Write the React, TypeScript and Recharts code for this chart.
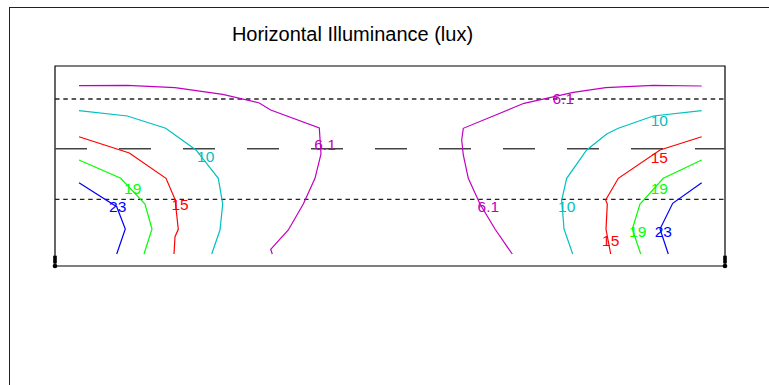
import React from "react";
import {
  ComposedChart,
  Line,
  Scatter,
  XAxis,
  YAxis,
  ReferenceLine,
  ReferenceArea,
  ReferenceDot,
} from "recharts";

type Pt = { x: number; y: number };

// contour polylines, x and y in metres across the area (road 67 x 20)
const magentaLeft: Pt[] = [
  { x: 2.4, y: 18.03 }, { x: 7.23, y: 18.07 }, { x: 12.0, y: 17.83 }, { x: 16.77, y: 17.17 },
  { x: 20.43, y: 16.3 }, { x: 21.57, y: 15.6 }, { x: 26.43, y: 13.8 }, { x: 26.6, y: 11.2 },
  { x: 26.0, y: 8.77 }, { x: 24.83, y: 6.2 }, { x: 23.33, y: 3.6 }, { x: 21.57, y: 1.67 },
  { x: 21.73, y: 1.2 },
];
const cyanLeft: Pt[] = [
  { x: 2.4, y: 15.53 }, { x: 7.23, y: 15.0 }, { x: 11.07, y: 13.77 }, { x: 14.1, y: 11.6 },
  { x: 16.33, y: 8.77 }, { x: 16.77, y: 6.2 }, { x: 16.5, y: 3.6 }, { x: 15.67, y: 1.2 },
];
const redLeft: Pt[] = [
  { x: 2.4, y: 12.93 }, { x: 7.43, y: 11.3 }, { x: 11.1, y: 8.77 }, { x: 12.0, y: 6.67 },
  { x: 12.33, y: 3.67 }, { x: 12.0, y: 2.93 }, { x: 11.9, y: 1.2 },
];
const greenLeft: Pt[] = [
  { x: 2.4, y: 10.6 }, { x: 6.57, y: 8.77 }, { x: 9.0, y: 6.2 }, { x: 9.7, y: 3.7 }, { x: 8.9, y: 1.2 },
];
const blueLeft: Pt[] = [
  { x: 2.4, y: 8.33 }, { x: 6.17, y: 5.93 }, { x: 7.03, y: 3.7 }, { x: 6.17, y: 1.2 },
];
const magentaRight: Pt[] = [
  { x: 64.67, y: 18.0 }, { x: 59.83, y: 18.07 }, { x: 55.07, y: 17.83 }, { x: 51.83, y: 17.37 },
  { x: 46.9, y: 16.27 }, { x: 40.83, y: 13.77 }, { x: 40.67, y: 12.6 }, { x: 40.83, y: 11.1 },
  { x: 41.33, y: 8.77 }, { x: 42.5, y: 6.2 }, { x: 44.0, y: 3.7 }, { x: 45.33, y: 1.77 },
  { x: 45.73, y: 1.2 },
];
const cyanRight: Pt[] = [
  { x: 64.67, y: 15.53 }, { x: 59.83, y: 15.0 }, { x: 56.33, y: 13.77 }, { x: 55.17, y: 13.2 },
  { x: 53.17, y: 11.6 }, { x: 51.17, y: 8.77 }, { x: 50.67, y: 6.6 }, { x: 50.9, y: 3.7 },
  { x: 51.77, y: 1.2 },
];
const redRight: Pt[] = [
  { x: 64.67, y: 12.93 }, { x: 60.5, y: 11.6 }, { x: 56.33, y: 8.77 }, { x: 55.07, y: 6.6 },
  { x: 55.23, y: 6.2 }, { x: 55.1, y: 3.67 }, { x: 55.57, y: 1.2 },
];
const greenRight: Pt[] = [
  { x: 64.67, y: 10.6 }, { x: 60.83, y: 8.77 }, { x: 58.5, y: 6.2 }, { x: 57.73, y: 3.7 }, { x: 58.57, y: 1.2 },
];
const blueRight: Pt[] = [
  { x: 64.67, y: 8.33 }, { x: 61.77, y: 6.27 }, { x: 60.5, y: 3.7 }, { x: 61.33, y: 1.2 },
];

const MAGENTA = "#c000c0";
const CYAN = "#00c0c0";
const RED = "#ff0000";
const GREEN = "#00ff00";
const BLUE = "#0000ff";

const contours = [
  { id: "m-l", data: magentaLeft, color: MAGENTA },
  { id: "c-l", data: cyanLeft, color: CYAN },
  { id: "r-l", data: redLeft, color: RED },
  { id: "g-l", data: greenLeft, color: GREEN },
  { id: "b-l", data: blueLeft, color: BLUE },
  { id: "m-r", data: magentaRight, color: MAGENTA },
  { id: "c-r", data: cyanRight, color: CYAN },
  { id: "r-r", data: redRight, color: RED },
  { id: "g-r", data: greenRight, color: GREEN },
  { id: "b-r", data: blueRight, color: BLUE },
];

const contourLabels = [
  { x: 27.0, y: 12.2, text: "6.1", color: MAGENTA },
  { x: 15.07, y: 10.93, text: "10", color: CYAN },
  { x: 7.77, y: 7.77, text: "19", color: GREEN },
  { x: 12.5, y: 6.2, text: "15", color: RED },
  { x: 6.27, y: 5.93, text: "23", color: BLUE },
  { x: 50.83, y: 16.77, text: "6.1", color: MAGENTA },
  { x: 60.43, y: 14.6, text: "10", color: CYAN },
  { x: 60.43, y: 10.87, text: "15", color: RED },
  { x: 60.43, y: 7.77, text: "19", color: GREEN },
  { x: 43.33, y: 5.93, text: "6.1", color: MAGENTA },
  { x: 51.17, y: 5.93, text: "10", color: CYAN },
  { x: 55.57, y: 2.53, text: "15", color: RED },
  { x: 58.27, y: 3.43, text: "19", color: GREEN },
  { x: 60.83, y: 3.43, text: "23", color: BLUE },
];

const laneLines = [16.7, 6.67];
const centreLine = 11.73;
const poles = [0, 67];

const FONT = "'Liberation Sans', Arial, sans-serif";

const LabelText = (props: any) => {
  const { cx, cy, payload } = props;
  return (
    <text x={cx} y={cy} textAnchor="middle" dominantBaseline="central" fill={payload.color} fontSize={15.5} fontFamily={FONT}>
      {payload.text}
    </text>
  );
};

export default function App() {
  return (
    <div style={{ position: "absolute", left: 0, top: 0, width: 769, height: 385, overflow: "hidden", background: "#fff" }}>
      <div style={{ position: "absolute", left: 9, top: 7, width: 800, height: 420, border: "1px solid #222" }} />
      <div
        style={{
          position: "absolute",
          left: 0,
          top: 24,
          width: 705,
          textAlign: "center",
          fontFamily: FONT,
          fontSize: 20,
          lineHeight: "20px",
          color: "#000",
        }}
      >
        Horizontal Illuminance (lux)
      </div>
      <div style={{ position: "absolute", left: 0, top: 0 }}>
        <ComposedChart width={769} height={385} margin={{ top: 66, right: 44, bottom: 119, left: 55 }}>
          <XAxis type="number" dataKey="x" domain={[0, 67]} hide allowDataOverflow />
          <YAxis type="number" dataKey="y" domain={[0, 20]} hide allowDataOverflow />
          <ReferenceArea x1={0} x2={67} y1={0} y2={20} fill="none" stroke="#000" strokeWidth={1.2} />
          {laneLines.map((y) => (
            <ReferenceLine key={y} y={y} stroke="#222" strokeWidth={1.3} strokeDasharray="4.5 3.8" />
          ))}
          <ReferenceLine y={centreLine} stroke="#444" strokeWidth={1.6} strokeDasharray="32 32" />
          {contours.map((c) => (
            <Line
              key={c.id}
              data={c.data}
              dataKey="y"
              type="linear"
              stroke={c.color}
              strokeWidth={1.2}
              dot={false}
              activeDot={false}
              isAnimationActive={false}
            />
          ))}
          <Scatter data={contourLabels} dataKey="y" shape={LabelText} isAnimationActive={false} />
          {poles.map((x) => (
            <ReferenceDot
              key={"sq" + x}
              x={x}
              y={0.6}
              r={0}
              shape={(p: any) => <rect x={p.cx - 1.8} y={p.cy - 4.3} width={3.6} height={7.8} fill="#000" />}
            />
          ))}
          {poles.map((x) => (
            <ReferenceDot key={"pt" + x} x={x} y={0} r={2.3} fill="#000" stroke="none" />
          ))}
        </ComposedChart>
      </div>
    </div>
  );
}
